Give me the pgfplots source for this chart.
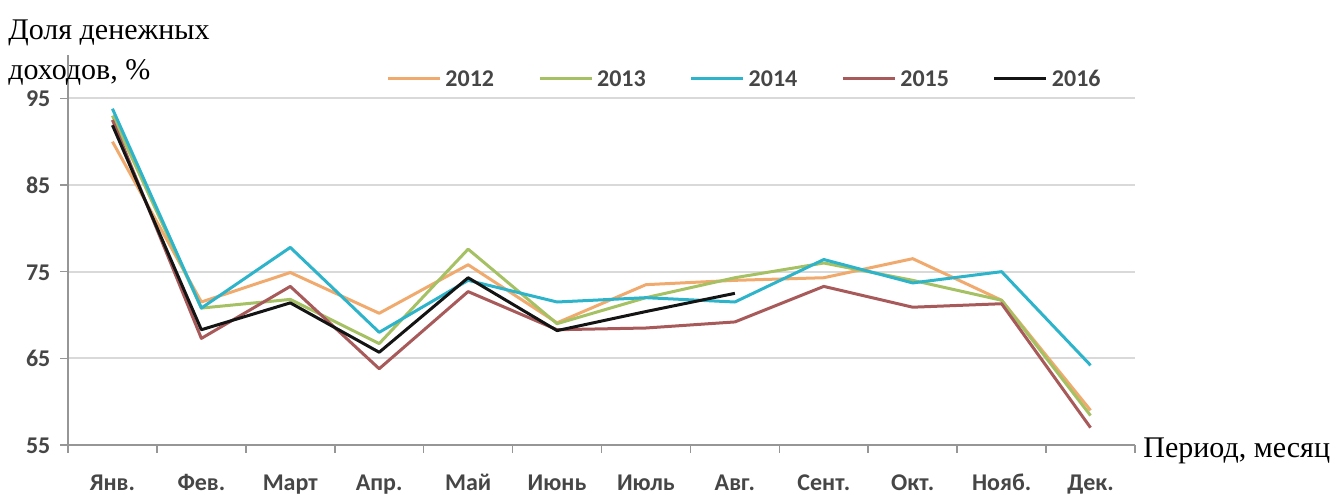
\documentclass[border=0pt]{standalone}
\usepackage{fontspec}
\setmainfont{Liberation Serif}
\newfontfamily\calib{Carlito}
\usepackage{pgfplots}
\pgfplotsset{compat=1.18}
\definecolor{c2012}{RGB}{240,170,110}
\definecolor{c2013}{RGB}{165,193,99}
\definecolor{c2014}{RGB}{45,180,202}
\definecolor{c2015}{RGB}{168,90,90}
\definecolor{c2016}{RGB}{20,20,20}
\definecolor{gridc}{RGB}{217,217,217}
\definecolor{axc}{RGB}{150,150,150}
\definecolor{txt}{RGB}{70,70,70}
\begin{document}
\begin{tikzpicture}
\begin{axis}[
  at={(0,0)}, anchor=south west,
  scale only axis, width=533.5bp, height=195bp,
  xmin=0.5, xmax=12.5, ymin=55, ymax=100,
  xtick={0.5,1.5,...,12.5},
  x tick label as interval,
  xticklabels={Янв.,Фев.,Март,Апр.,Май,Июнь,Июль,Авг.,Сент.,Окт.,Нояб.,Дек.},
  ytick={55,65,75,85,95},
  axis x line=bottom, axis y line=left,
  axis line style={-, draw=axc, line width=0.8bp},
  tick align=outside, major tick length=3.8bp,
  tick style={draw=axc, line width=0.8bp},
  ymajorgrids, grid style={draw=gridc, line width=0.9bp},
  /pgf/number format/assume math mode=true,
  ticklabel style={font=\calib\bfseries\fontsize{12bp}{14bp}\selectfont, text=txt},
  xticklabel style={anchor=base, yshift=-19bp},
  yticklabel style={anchor=base east, xshift=-1.5bp, yshift=-4.2bp},
  legend columns=5,
  legend style={at={(0.635,0.941)}, anchor=center, draw=none, fill=none,
    font=\calib\bfseries\fontsize{12bp}{14bp}\selectfont, text=txt,
    nodes={text height=8.5bp, text depth=0bp},
    /tikz/every even column/.append style={column sep=20bp},
    inner sep=0pt},
  legend image code/.code={\draw[#1] (0bp,0bp) -- (26bp,0bp);},
  every axis plot/.append style={line width=1.5bp, line join=round},
  clip=false,
]
\addplot[c2012] coordinates {(1,90) (2,71.5) (3,74.9) (4,70.2) (5,75.8) (6,69.1) (7,73.5) (8,74) (9,74.3) (10,76.5) (11,71.7) (12,59)};
\addlegendentry{2012}
\addplot[c2013] coordinates {(1,93) (2,70.8) (3,71.8) (4,66.7) (5,77.6) (6,69.0) (7,72) (8,74.3) (9,76) (10,74) (11,71.7) (12,58.4)};
\addlegendentry{2013}
\addplot[c2014] coordinates {(1,93.8) (2,70.8) (3,77.8) (4,68) (5,74) (6,71.5) (7,72) (8,71.5) (9,76.4) (10,73.7) (11,75) (12,64.2)};
\addlegendentry{2014}
\addplot[c2015] coordinates {(1,92.5) (2,67.3) (3,73.3) (4,63.8) (5,72.7) (6,68.3) (7,68.5) (8,69.2) (9,73.3) (10,70.9) (11,71.3) (12,57)};
\addlegendentry{2015}
\addplot[c2016] coordinates {(1,91.9) (2,68.3) (3,71.4) (4,65.7) (5,74.3) (6,68.2) (7,70.4) (8,72.5)};
\addlegendentry{2016}
\end{axis}
\node[anchor=base west, inner sep=0pt, font=\fontsize{15bp}{17bp}\selectfont] at (-30bp,202.5bp) {Доля денежных};
\node[anchor=base west, inner sep=0pt, font=\fontsize{15bp}{17bp}\selectfont] at (-30bp,182.5bp) {доходов, \%};
\node[anchor=base west, inner sep=0pt, font=\fontsize{15bp}{17bp}\selectfont] at (537.5bp,-6bp) {Период, месяц};
\pgfresetboundingbox
\path (-34bp,-25bp) rectangle (635bp,222.5bp);
\end{tikzpicture}
\end{document}
